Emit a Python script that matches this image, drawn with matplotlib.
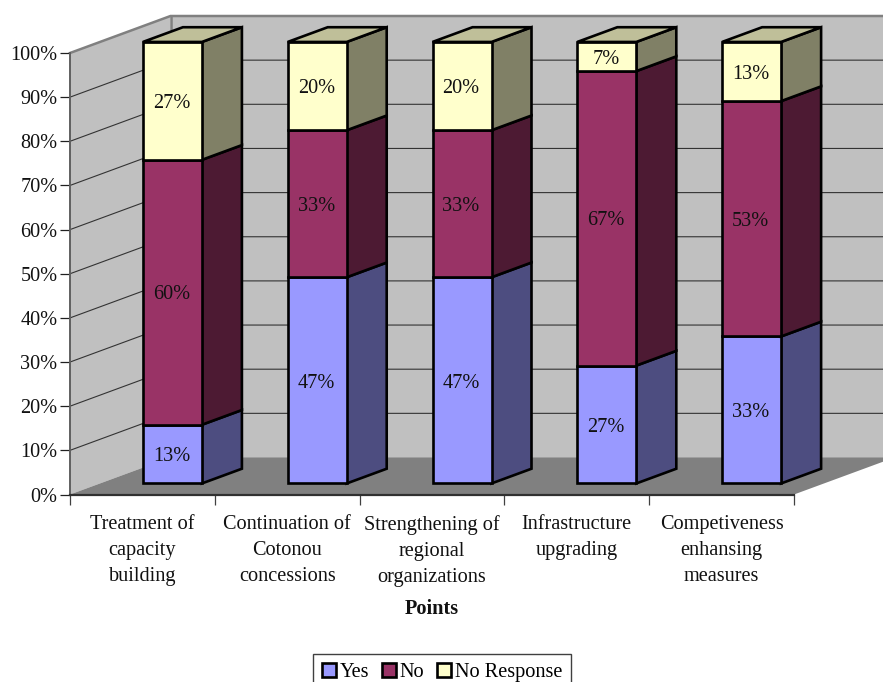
import matplotlib
matplotlib.use("Agg")
import matplotlib.pyplot as plt
from matplotlib.patches import Patch

plt.rcParams['font.family'] = ['Liberation Serif', 'DejaVu Serif']

categories = ["Treatment of\ncapacity\nbuilding", "Continuation of\nCotonou\nconcessions",
              "Strengthening of\nregional\norganizations", "Infrastructure\nupgrading\n ",
              "Competiveness\nenhansing\nmeasures"]
series_names = ["Yes", "No", "No Response"]
yes_values = [13.3, 46.7, 46.7, 26.7, 33.3]
no_values = [60.0, 33.3, 33.3, 66.7, 53.3]
nr_values = [26.7, 20.0, 20.0, 6.6, 13.4]
y_ticks = list(range(0, 101, 10))

face_colors = ["#9999FF", "#993366", "#FFFFCC"]
side_colors = ["#4D4D80", "#4D1A33", "#808066"]
top_color = "#BFBF99"
WALL = "#C0C0C0"
FLOOR = "#808080"
FS = 14.6

W, H = 883, 682
L, R, B, T = 70, 794, 494.5, 53
fig = plt.figure(figsize=(W / 100, H / 100), dpi=100)
ax = fig.add_axes([L / W, 1 - B / H, (R - L) / W, (B - T) / H])
ax.set_xlim(0, 5)
ax.set_ylim(0, 100)
ax.patch.set_visible(False)

# oblique depth vector, in data units per full depth
DX = 100.5 / ((R - L) / 5)
DY = 37 / ((B - T) / 100)


def P(x, y, d=0.0):
    return x + d * DX, y + d * DY


def poly(pts, fc, ec="none", lw=0.0, z=1):
    xs, ys = zip(*pts)
    ax.fill(xs, ys, facecolor=fc, edgecolor=ec, linewidth=lw, clip_on=False,
            zorder=z, joinstyle='miter')


# walls and floor
XFAR = 5
poly([P(0, 0), P(0, 100), P(0, 100, 1), P(0, 0, 1)], WALL, z=1)
poly([P(0, 0, 1), P(0, 100, 1), P(XFAR, 100, 1), P(XFAR, 0, 1)], WALL, z=1)
poly([P(0, 0), P(XFAR, 0), P(XFAR, 0, 1), P(0, 0, 1)], FLOOR, z=1.1)

for t in y_ticks[1:]:
    lc = "#808080" if t == 100 else "#333333"
    lw = 1.8 if t == 100 else 0.8
    ax.plot(*zip(P(0, t), P(0, t, 1), P(XFAR, t, 1)), color=lc, lw=lw, clip_on=False,
            zorder=1.2, solid_joinstyle='miter')
ax.plot(*zip(P(0, 0, 1), P(0, 100, 1)), color="#808080", lw=1.8, clip_on=False, zorder=1.2)

# bars
D0, D1 = 30 / 100.5, 70 / 100.5
BW = 59 / ((R - L) / 5)
for i in range(len(categories)):
    xc = i + 0.5
    x0, x1 = xc - BW / 2, xc + BW / 2
    base = 0.0
    vals = [yes_values[i], no_values[i], nr_values[i]]
    for j, v in enumerate(vals):
        top = base + v
        poly([P(x1, base, D0), P(x1, top, D0), P(x1, top, D1), P(x1, base, D1)],
             side_colors[j], "black", 1.9, z=3 + i)
        poly([P(x0, base, D0), P(x1, base, D0), P(x1, top, D0), P(x0, top, D0)],
             face_colors[j], "black", 1.9, z=3 + i)
        tx, ty = P(xc, base + v / 2, D0)
        ax.annotate(f"{v:.0f}%", (tx, ty), xytext=(-0.7, -1.9), textcoords='offset points',
                    ha='center', va='center', fontsize=FS, color="#111111",
                    zorder=10 + i, annotation_clip=False)
        base = top
    poly([P(x0, base, D0), P(x1, base, D0), P(x1, base, D1), P(x0, base, D1)],
         top_color, "black", 1.9, z=3 + i)

# axes furniture
for s in ("top", "right"):
    ax.spines[s].set_visible(False)
ax.spines['left'].set_color("#606060")
ax.spines['left'].set_linewidth(1.4)
ax.spines['bottom'].set_color("#303030")
ax.spines['bottom'].set_linewidth(1.6)
for s in ax.spines.values():
    s.set_zorder(2)

ax.set_yticks(y_ticks)
ax.set_yticklabels([f"{t}%" for t in y_ticks], fontsize=FS, color="#111111")
ax.tick_params(axis='y', length=7.2, width=0.9, color="#202020", pad=1.8)

ax.set_xticks(range(6))
ax.set_xticklabels([])
ax.set_xticks([i + 0.5 for i in range(5)], minor=True)
ax.set_xticklabels(categories, minor=True, fontsize=FS, color="#111111", linespacing=1.5)
ax.tick_params(axis='x', which='major', length=7.2, width=0.9, color="#404040")
ax.tick_params(axis='x', which='minor', length=0, pad=14.5)
ax.set_xlabel("Points", fontsize=FS, fontweight='bold', color="#111111", labelpad=9.3)

handles = [Patch(facecolor=c, edgecolor="black", linewidth=1.9) for c in face_colors]
leg = fig.legend(handles, series_names, ncol=3, loc='upper left',
                 bbox_to_anchor=(313 / W, 1 - 653.5 / H), borderaxespad=0, fontsize=FS,
                 frameon=True, fancybox=False, edgecolor="#404040", framealpha=1,
                 handlelength=0.68, handleheight=0.75, handletextpad=0.2,
                 columnspacing=0.62, borderpad=0.45, labelspacing=0)
leg.get_frame().set_linewidth(1.0)

fig.savefig("out.png", dpi=100)
